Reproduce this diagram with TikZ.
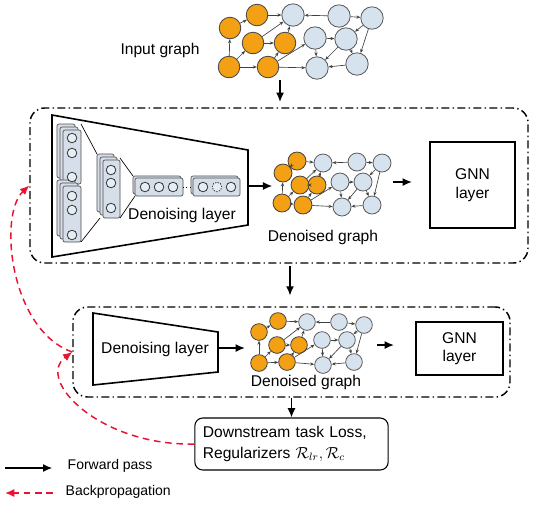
\documentclass[tikz,border=0pt]{standalone}
\usepackage{fontspec}
\setmainfont{Liberation Sans}
\usetikzlibrary{arrows.meta}

\definecolor{nodeorange}{RGB}{243,160,20}
\definecolor{nodeblue}{RGB}{214,226,238}
\definecolor{layerfill}{RGB}{214,223,233}
\definecolor{bpred}{RGB}{232,18,50}

\begin{document}
\begin{tikzpicture}[x=0.75pt,y=0.75pt,yscale=-1,xscale=1,
  every node/.style={font=\fontsize{11.7}{14}\selectfont},
  onode/.style={circle,draw=black!75,fill=nodeorange,inner sep=0pt,line width=0.6pt},
  bnode/.style={circle,draw=black!65,fill=nodeblue,inner sep=0pt,line width=0.6pt},
  gedge/.style={draw=black!75,line width=0.5pt,-{Stealth[length=3pt,width=2.4pt]}},
  fwd/.style={line width=1.1pt,-{Latex[length=7pt,width=6pt]}},
  bp/.style={bpred,line width=1.1pt,dash pattern=on 5pt off 3.5pt,-{Latex[length=7pt,width=6pt]}},
  stagebox/.style={draw,line width=1.1pt,rounded corners=11pt,dash pattern=on 6pt off 2.5pt on 1pt off 2.5pt},
  trap/.style={draw,line width=1.2pt,fill=white},
  gnnbox/.style={draw,line width=1.1pt,align=center},
  nnbox/.style={draw=black!70,fill=layerfill,line width=0.5pt,rounded corners=1.5pt},
  neuron/.style={circle,draw=black!80,fill=nodeblue!60,minimum size=7.2pt,inner sep=0pt,line width=0.6pt},
  legtext/.style={font=\fontsize{10.5}{12}\selectfont,anchor=west}]

\useasboundingbox (0,0) rectangle (559,512);

%Shape: Input graph
\foreach \n/\x/\y in {a/257/15,b/230/28,c/253/43,d/285/43,e/229/67,f/268/67}
  \node[onode,minimum size=16.2pt] (g0\n) at (\x,\y) {};
\foreach \n/\x/\y in {g/293/15,h/339/16,i/372/18,j/315/38,k/346/39,l/317/68,m/357/64}
  \node[bnode,minimum size=16.8pt] (g0\n) at (\x,\y) {};
\node (intext) at (160,50) {Input graph};

%Shape: Stage boxes
\node[stagebox,minimum width=373.5pt,minimum height=116.25pt] (stage1) at (279,185.5) {};
\node[stagebox,minimum width=327.75pt,minimum height=67.5pt] (stage2) at (291.5,352) {};

%Shape: Trapezoid (denoising layer, stage 1)
\draw[trap] (52,115) -- (248,150) -- (248,225) -- (52,257) -- cycle;
\coordinate (den1-e) at (248,186);

%Shape: Stacked layers
\foreach \d in {6,3,0}
  \draw[nnbox] (63-\d,130-\d) rectangle (81-\d,184-\d);
\foreach \d in {6,3,0}
  \draw[nnbox] (63-\d,186-\d) rectangle (81-\d,242-\d);
\foreach \d in {6,3,0}
  \draw[nnbox] (103-\d,160-\d) rectangle (120-\d,218-\d);
\foreach \d in {2,0}
  \draw[nnbox] (135-\d,178-\d) rectangle (183-\d,196-\d);
\foreach \d in {2,0}
  \draw[nnbox] (193-\d,178-\d) rectangle (240-\d,196-\d);

%Straight Lines (between layers)
\draw[line width=0.5pt] (81,124) -- (97,154);
\draw[line width=0.5pt] (81,242) -- (100,218);
\draw[line width=0.5pt] (120,158) -- (133,176);
\draw[line width=0.5pt] (120,218) -- (135,196);
\draw[line width=0.6pt,dotted] (183,187) -- (191,187);

%Shape: Neurons
\foreach \y [count=\i] in {138,153,177,196,210,235}
  \node[neuron] (na\i) at (72,\y) {};
\foreach \y [count=\i] in {170,183,208}
  \node[neuron] (nb\i) at (111,\y) {};
\foreach \x [count=\i] in {145,159,173}
  \node[neuron] (nc\i) at (\x,187) {};
\node[neuron] (nd1) at (203,187) {};
\node[neuron,dash pattern=on 1pt off 1pt] (nd2) at (217,187) {};
\node[neuron] (nd3) at (231,187) {};

\node (den1) at (182,215) {Denoising layer};

%Shape: Denoised graph 1
\foreach \n/\x/\y in {a/297/161,b/283/173,c/300/185,d/317/185,e/282/203,f/303/205}
  \node[onode,minimum size=13.5pt] (g1\n) at (\x,\y) {};
\foreach \n/\x/\y in {g/323/163,h/357/162,i/382/163,j/340/182,k/363/182,l/342/207,m/372/205}
  \node[bnode,minimum size=13.5pt] (g1\n) at (\x,\y) {};
\node (dg1) at (323,237) {Denoised graph};
\coordinate (g1out) at (393,182);

%Shape: GNN layer 1
\node[gnnbox,minimum width=63.75pt,minimum height=64.5pt] (gnn1) at (472.5,185) {GNN\\layer};

%Shape: Trapezoid (denoising layer, stage 2)
\draw[trap] (93,313) -- (218,332) -- (218,372) -- (93,385) -- cycle;
\coordinate (den2-e) at (218,348);
\node (den2) at (155,349) {Denoising layer};

%Shape: Denoised graph 2
\foreach \n/\x/\y in {a/278/321,b/259/332,c/277/345,d/299/345,e/259/363,f/287/362}
  \node[onode,minimum size=12.5pt] (g2\n) at (\x,\y) {};
\foreach \n/\x/\y in {g/307/322,h/339/322,i/364/325,j/322/340,k/347/340,l/323/365,m/354/362}
  \node[bnode,minimum size=12.5pt] (g2\n) at (\x,\y) {};
\node (dg2) at (306,382) {Denoised graph};
\coordinate (g2out) at (377,345);

%Shape: GNN layer 2
\node[gnnbox,minimum width=65.25pt,minimum height=39.75pt] (gnn2) at (459.5,348.5) {GNN\\layer};

%Graph edges
\foreach \g in {g0,g1,g2}
  \foreach \s/\t in {e/b,b/a,a/g,e/c,c/g,c/d,e/f,f/d,d/g,f/j,f/l,h/g,h/i,i/k,i/m,j/k,j/l,k/l,m/l,k/m}
    \draw[gedge] (\g\s) -- (\g\t);

%Shape: Loss box
\node[draw,line width=0.8pt,rounded corners=6pt,align=left,text width=133pt,
  inner xsep=6pt,inner ysep=2pt,minimum height=39pt] (down) at (291.5,444)
  {Downstream task Loss,\\[1.5pt]Regularizers {\large$\mathcal{R}_{lr}, \mathcal{R}_c$}};

%Straight Lines (forward pass)
\coordinate (ingraph-s) at (280,80);
\draw[fwd] (ingraph-s) -- (ingraph-s |- stage1.north) [shorten >=4];
\draw[fwd] (den1-e) -- (den1-e -| g1b.west) [shorten >=1];
\draw[fwd] (g1out) -- (g1out -| gnn1.west) [shorten >=13];
\draw[fwd] (stage1.south -| 290,0) -- (stage2.north -| 290,0) [shorten >=8,shorten <=2];
\draw[fwd] (den2-e) -- (den2-e -| g2b.west) [shorten >=4];
\draw[fwd] (g2out) -- (g2out -| gnn2.west) [shorten >=16];
\draw[fwd] (stage2.south -| down.north) -- (down.north);

%Curve Lines (backpropagation)
\draw[bp] (down.west) .. controls (100,446) and (35,380) .. (stage2.west);
\draw[bp] (stage2.west) .. controls (10,330) and (-2,215) .. (stage1.west);

%Legend
\node[legtext] (fwdtxt) at (63,466) {Forward pass};
\node[legtext] (bptxt) at (61,492) {Backpropagation};
\coordinate (fwd0) at (5,468);
\coordinate (bp0) at (5,493);
\draw[fwd] (fwd0) -- (fwd0 -| fwdtxt.west) [shorten >=8];
\draw[bp] (bp0 -| bptxt.west) -- (bp0) [shorten <=6];

\end{tikzpicture}
\end{document}
